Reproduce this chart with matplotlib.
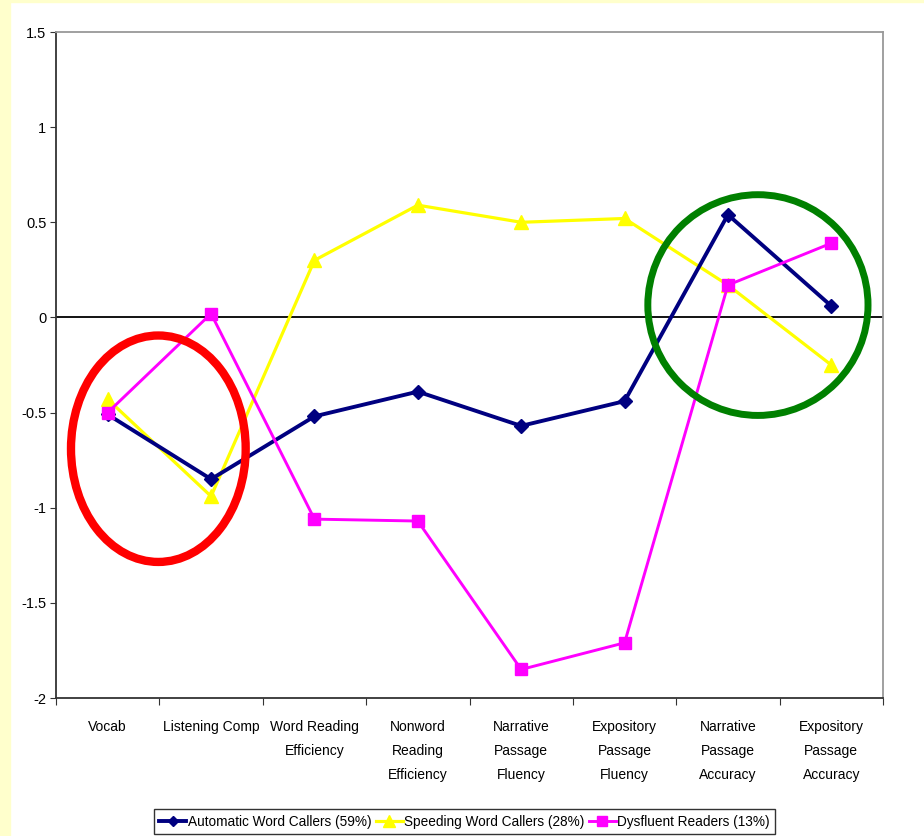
import matplotlib
matplotlib.use("Agg")
import matplotlib.pyplot as plt
from matplotlib.patches import Ellipse, Rectangle
from matplotlib.ticker import FormatStrFormatter

plt.rcParams["font.family"] = ["Liberation Sans", "DejaVu Sans"]
plt.rcParams["axes.unicode_minus"] = False

categories = [
    "Vocab",
    "Listening Comp",
    "Word Reading\nEfficiency",
    "Nonword\nReading\nEfficiency",
    "Narrative\nPassage\nFluency",
    "Expository\nPassage\nFluency",
    "Narrative\nPassage\nAccuracy",
    "Expository\nPassage\nAccuracy",
]
automatic = [-0.51, -0.85, -0.52, -0.39, -0.57, -0.44, 0.54, 0.06]
speeding = [-0.43, -0.94, 0.30, 0.59, 0.50, 0.52, 0.17, -0.25]
dysfluent = [-0.50, 0.02, -1.06, -1.07, -1.85, -1.71, 0.17, 0.39]

series_names = [
    "Automatic Word Callers (59%)",
    "Speeding Word Callers (28%)",
    "Dysfluent Readers (13%)",
]
y_ticks = [-2, -1.5, -1, -0.5, 0, 0.5, 1, 1.5]

fig = plt.figure(figsize=(9.24, 8.36), dpi=100, facecolor="white")
# pale yellow slide border
fig.patches.append(Rectangle((0, 0), 10 / 924, 1, transform=fig.transFigure,
                             color="#ffffcc", zorder=0))
fig.patches.append(Rectangle((0, 1 - 2 / 836), 1, 2 / 836, transform=fig.transFigure,
                             color="#ffffcc", zorder=0))

ax = fig.add_axes([56 / 924, 138 / 836, 827 / 924, 666 / 836])
x = list(range(len(categories)))

ax.axhline(0, color="black", lw=1.3, zorder=1)
ax.plot(x, automatic, color="#000080", lw=2.8, marker="D", ms=7,
        label=series_names[0], zorder=3)
ax.plot(x, speeding, color="#ffff00", lw=2.3, marker="^", ms=10,
        label=series_names[1], zorder=2)
ax.plot(x, dysfluent, color="#ff00ff", lw=2.1, marker="s", ms=8.5,
        label=series_names[2], zorder=4)

# highlight circles
ax.add_patch(Ellipse((0.49, -0.69), 1.69, 1.19, fill=False, ec="#ff0000",
                     lw=6, zorder=5))
ax.add_patch(Ellipse((6.29, 0.065), 2.13, 1.16, fill=False, ec="#008000",
                     lw=5, zorder=5))

ax.set_xlim(-0.5, len(categories) - 0.5)
ax.set_ylim(-2, 1.5)
ax.set_yticks(y_ticks)
ax.yaxis.set_major_formatter(FormatStrFormatter("%g"))
ax.tick_params(axis="y", length=4, direction="out", labelsize=10.5, pad=3,
               color="#333333")

ax.set_xticks([i - 0.5 for i in range(len(categories) + 1)])
ax.set_xticklabels([])
ax.set_xticks(x, minor=True)
ax.set_xticklabels(categories, minor=True, fontsize=10, linespacing=1.9,
                   va="top")
ax.tick_params(axis="x", which="major", length=5, direction="out", color="#333333")
ax.tick_params(axis="x", which="minor", length=0, pad=16)

for side in ["left", "bottom"]:
    ax.spines[side].set_color("#333333")
    ax.spines[side].set_linewidth(1.3)
for side in ["top", "right"]:
    ax.spines[side].set_color("#999999")
    ax.spines[side].set_linewidth(1.3)

leg = fig.legend(loc="lower center", bbox_to_anchor=(464.5 / 924, 2 / 836),
                 ncol=3, frameon=True, fancybox=False, edgecolor="black",
                 fontsize=9.8, handlelength=2.0, handletextpad=0.1,
                 columnspacing=0.3, borderpad=0.4, borderaxespad=0,
                 markerscale=0.8)
leg.get_frame().set_linewidth(1)

fig.savefig("out.png", dpi=100, facecolor="white")
